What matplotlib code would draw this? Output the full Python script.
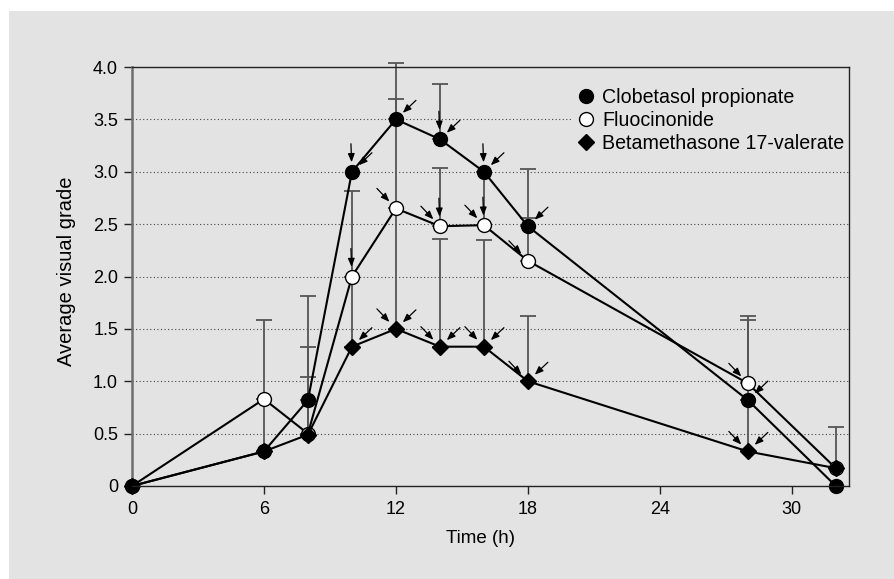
import numpy as np
import matplotlib
matplotlib.use("Agg")
import matplotlib.pyplot as plt
from matplotlib.lines import Line2D
from matplotlib.patches import Rectangle

plt.rcParams['font.family'] = ['Liberation Sans', 'DejaVu Sans']

# ---- data ----
time_h = [0, 6, 8, 10, 12, 14, 16, 18, 28, 32]
clob = [0, 0.33, 0.82, 3.0, 3.5, 3.31, 3.0, 2.48, 0.82, 0.0]
fluo = [0, 0.83, 0.50, 2.0, 2.65, 2.48, 2.49, 2.15, 0.98, 0.17]
beta = [0, 0.33, 0.49, 1.33, 1.5, 1.33, 1.33, 1.0, 0.33, 0.17]

clob_err = [0, 0.50, 0.99, 0, 0.54, 0.53, 0, 0.55, 0.76, 0]
fluo_err = [0, 0.75, 0.83, 0.82, 1.04, 0.56, 0.51, 0.41, 0.64, 0.39]
beta_err = [0, 0, 0.55, 0.67, 1.15, 1.03, 1.02, 0.62, 0.49, 0]

labels = ["Clobetasol propionate", "Fluocinonide", "Betamethasone 17-valerate"]
xticks = [0, 6, 12, 18, 24, 30]
yticks = [0, 0.5, 1.0, 1.5, 2.0, 2.5, 3.0, 3.5, 4.0]
ytick_labels = ["0", "0.5", "1.0", "1.5", "2.0", "2.5", "3.0", "3.5", "4.0"]

# arrow annotations: times per series and direction
clob_arrows_down = [10, 14, 16]
clob_arrows_sw = [10, 12, 14, 16, 18, 28]
fluo_arrows_down = [10, 14, 16]
fluo_arrows_se = [12, 14, 16, 18, 28]
beta_arrows_se = [12, 14, 16, 18, 28]
beta_arrows_sw = [10, 12, 14, 16, 18, 28]

BG = '#e3e3e3'
W, H = 895, 579
fig = plt.figure(figsize=(W / 100, H / 100), dpi=100, facecolor='white')
bgrect = Rectangle((9 / W, 0), 1 - 9 / W, 1 - 11 / H, transform=fig.transFigure,
                   facecolor=BG, edgecolor='none', zorder=-10)
fig.add_artist(bgrect)

ax = fig.add_axes([132 / W, 1 - 486 / H, (849 - 132) / W, (486 - 67) / H])
ax.set_zorder(1)
ax.set_facecolor(BG)
ax.set_xlim(0, 32.6)
ax.set_ylim(0, 4.0)

# grid
ax.yaxis.grid(True, linestyle=(0, (1, 2.2)), color='#444444', lw=0.8)
ax.set_axisbelow(True)

# error bars
def draw_err(vals, errs):
    t = np.array(time_h, float)
    v = np.array(vals, float)
    e = np.array(errs, float)
    m = e > 0
    cont = ax.errorbar(t[m], v[m], yerr=[np.zeros(m.sum()), e[m]], fmt='none',
                       ecolor='#555555', elinewidth=1.3, capsize=5.5, capthick=1.3, zorder=2)
    for c in cont.lines[1]:
        c.set_clip_on(False)
    for c in cont.lines[2]:
        c.set_clip_on(False)

draw_err(clob, clob_err)
draw_err(fluo, fluo_err)
draw_err(beta, beta_err)

# series
ax.plot(time_h, clob, color='black', lw=1.5, marker='o', ms=10, mfc='black', mec='black',
        zorder=4, clip_on=False)
ax.plot(time_h, fluo, color='black', lw=1.5, marker='o', ms=10, mfc='white', mec='black',
        mew=1.0, zorder=3, clip_on=False)
ax.plot(time_h, beta, color='black', lw=1.5, marker='D', ms=8.5, mfc='black', mec='black',
        zorder=3.5, clip_on=False)

# arrows
PX = 0.72  # points per pixel
def arrow(t, v, tail_px, tip_dist_px):
    ax.annotate('', xy=(t, v), xytext=(tail_px[0] * PX, tail_px[1] * PX), textcoords='offset points',
                arrowprops=dict(arrowstyle='-|>,head_length=0.5,head_width=0.2', color='black',
                                lw=0.9, shrinkA=0, shrinkB=tip_dist_px * PX),
                zorder=5, annotation_clip=False)

def lookup(series, t):
    return series[time_h.index(t)]

for t in clob_arrows_down:
    arrow(t, lookup(clob, t), (-1, 28), 9.5)
for t in clob_arrows_sw:
    arrow(t, lookup(clob, t), (20, 19), 9.5)
for t in fluo_arrows_down:
    arrow(t, lookup(fluo, t), (-1, 28), 9.5)
for t in fluo_arrows_se:
    arrow(t, lookup(fluo, t), (-19, 20), 9.5)
for t in beta_arrows_se:
    arrow(t, lookup(beta, t), (-19, 20), 9.5)
for t in beta_arrows_sw:
    arrow(t, lookup(beta, t), (20, 19), 9.5)

# spines
for s in ['top', 'right', 'bottom']:
    ax.spines[s].set_color('#222222')
    ax.spines[s].set_linewidth(1.0)
    ax.spines[s].set_zorder(8)
ax.spines['left'].set_color('#6e6e6e')
ax.spines['left'].set_linewidth(1.8)

ax.set_xticks(xticks)
ax.set_yticks(yticks)
ax.set_yticklabels(ytick_labels)
ax.tick_params(axis='both', direction='out', length=6, width=1.0, color='#222222',
               labelsize=13, pad=4)
ax.tick_params(axis='x', pad=5)

ax.set_xlabel('Time (h)', fontsize=13.5)
ax.xaxis.set_label_coords((481 - 132) / 717, -0.105)
ax.set_ylabel('Average visual grade', fontsize=14.5)
ax.yaxis.set_label_coords(-0.078, 0.513)

handles = [
    Line2D([], [], ls='none', marker='o', ms=10, mfc='black', mec='black'),
    Line2D([], [], ls='none', marker='o', ms=10, mfc='white', mec='black'),
    Line2D([], [], ls='none', marker='D', ms=8.5, mfc='black', mec='black'),
]
leg = ax.legend(handles, labels, loc='upper left', bbox_to_anchor=(572 / W, 1 - 82 / H),
                bbox_transform=fig.transFigure, fontsize=14.1, frameon=True, facecolor=BG,
                edgecolor='none', framealpha=1, handlelength=0.8, handletextpad=0.45,
                labelspacing=0.2, borderpad=0.3, borderaxespad=0)
leg.set_zorder(6)

fig.savefig('out.png', dpi=100, facecolor='white')
